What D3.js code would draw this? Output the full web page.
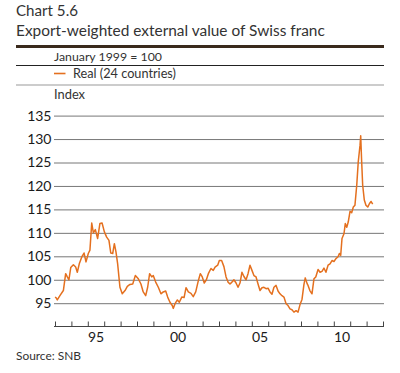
<!DOCTYPE html>
<html><head><meta charset="utf-8">
<script src="https://cdn.jsdelivr.net/npm/d3@7"></script>
<style>body{margin:0;background:#fff}svg{display:block}text{font-family:Lato,"Open Sans",sans-serif}</style>
</head><body>
<script>
// ---- data ----
const chartLabel = "Chart 5.6";
const chartTitle = "Export-weighted external value of Swiss franc";
const baseNote = "January 1999 = 100";
const seriesName = "Real (24 countries)";
const unitLabel = "Index";
const sourceNote = "Source: SNB";
const yTicks = [95, 100, 105, 110, 115, 120, 125, 130, 135];
const xTickYears = [1993,1994,1995,1996,1997,1998,1999,2000,2001,2002,2003,2004,2005,2006,2007,2008,2009,2010,2011,2012,2013];
const xLabelYears = [1995, 2000, 2005, 2010];
const xLabels = ["95", "00", "05", "10"];
const years = [
1993.00,1993.06,1993.14,1993.30,1993.51,1993.65,1993.75,1993.85,1993.96,1994.12,1994.26,1994.36,1994.48,1994.65,1994.77,1994.89,
1995.03,1995.13,1995.24,1995.34,1995.46,1995.60,1995.74,1995.87,1996.01,1996.15,1996.29,1996.40,1996.52,1996.62,1996.72,1996.82,
1996.96,1997.10,1997.27,1997.41,1997.57,1997.74,1997.90,1998.08,1998.24,1998.38,1998.53,1998.65,1998.77,1998.90,1998.99,
1999.14,1999.30,1999.46,1999.60,1999.75,1999.87,2000.01,2000.15,2000.21,2000.32,2000.46,2000.58,2000.73,2000.87,2000.99,
2001.13,2001.29,2001.43,2001.58,2001.74,2001.86,2001.98,2002.10,2002.23,2002.35,2002.51,2002.65,2002.76,2002.92,2003.02,2003.16,
2003.30,2003.43,2003.55,2003.67,2003.79,2003.91,2004.04,2004.16,2004.28,2004.40,2004.52,2004.65,2004.77,2004.89,2005.01,2005.13,
2005.26,2005.38,2005.50,2005.62,2005.74,2005.87,2005.99,2006.11,2006.23,2006.35,2006.48,2006.60,2006.72,2006.84,2006.96,2007.09,
2007.21,2007.33,2007.45,2007.57,2007.70,2007.82,2007.94,2008.06,2008.18,2008.26,2008.38,2008.43,2008.54,2008.67,2008.79,2008.90,
2009.04,2009.16,2009.28,2009.40,2009.52,2009.65,2009.77,2009.89,2010.01,2010.13,2010.26,2010.34,2010.42,2010.50,2010.62,2010.70,
2010.79,2010.88,2010.99,2011.09,2011.19,2011.29,2011.40,2011.49,2011.60,2011.64,2011.70,2011.76,2011.86,2011.96,2012.07,2012.17,
2012.27,2012.37];
const realIndex = [
96.3,96.2,95.7,96.6,97.7,101.3,100.6,100.0,102.6,103.2,102.7,101.6,103.4,105.0,105.7,103.8,
105.6,106.3,112.1,110.0,110.7,108.8,112.0,112.1,110.2,109.1,108.4,105.7,105.6,107.7,105.9,103.4,
98.4,97.0,97.7,98.6,99.0,99.1,100.9,100.2,99.1,97.4,96.6,98.4,101.3,100.6,100.9,
99.5,98.4,97.0,97.4,97.6,96.3,95.2,94.5,93.9,94.9,95.7,95.2,96.3,96.2,98.3,
97.4,97.1,96.4,97.4,99.8,101.3,100.6,99.3,100.0,101.3,102.4,102.0,102.7,103.1,104.1,104.1,
102.8,100.6,99.5,99.1,99.5,100.0,99.3,98.4,99.3,101.6,100.7,100.0,101.3,103.1,102.0,100.9,
100.6,99.1,97.7,98.3,98.4,98.1,98.2,97.4,96.9,98.4,98.8,97.6,97.0,96.6,96.3,94.9,
94.5,93.8,93.6,93.1,93.4,93.1,94.7,95.8,99.0,100.4,99.1,98.8,97.7,97.0,100.2,100.6,
102.2,101.6,101.8,102.5,101.6,103.1,103.4,104.1,103.9,104.5,104.9,105.6,105.2,108.8,109.8,112.0,
111.2,112.3,114.6,114.3,115.5,115.9,120.2,125.1,128.7,130.7,125.1,120.2,117.0,115.9,115.5,116.2,
116.7,116.1];

// ---- drawing ----
const W = 400, H = 373;
const svg = d3.select("body").append("svg").attr("width", W).attr("height", H);
const x = d3.scaleLinear().domain([1993, 2013]).range([55, 383]);
const y = d3.scaleLinear().domain([95, 135]).range([303.2, 115.6]);

function fit(sel, target) {
  const w = sel.node().getComputedTextLength();
  const fs = parseFloat(sel.attr("font-size"));
  sel.attr("font-size", (fs * target / w).toFixed(2));
  return sel;
}

const tc = "#333";
fit(svg.append("text").attr("x", 16).attr("y", 15.5).attr("font-size", 15).attr("fill", tc).text(chartLabel), 62);
fit(svg.append("text").attr("x", 16).attr("y", 35.5).attr("font-size", 16).attr("fill", tc).text(chartTitle), 309);
svg.append("line").attr("x1", 16).attr("x2", 384).attr("y1", 46.5).attr("y2", 46.5).attr("stroke", "#3a2a1c").attr("stroke-width", 3);
fit(svg.append("text").attr("x", 54).attr("y", 61).attr("font-size", 12).attr("fill", tc).text(baseNote), 108);
svg.append("line").attr("x1", 16).attr("x2", 384).attr("y1", 65.5).attr("y2", 65.5).attr("stroke", "#222").attr("stroke-width", 1.2);
svg.append("line").attr("x1", 54).attr("x2", 65.5).attr("y1", 73.5).attr("y2", 73.5).attr("stroke", "#e4701f").attr("stroke-width", 1.6);
fit(svg.append("text").attr("x", 73).attr("y", 78).attr("font-size", 12).attr("fill", tc).text(seriesName), 103);
svg.append("line").attr("x1", 16).attr("x2", 384).attr("y1", 85).attr("y2", 85).attr("stroke", "#999").attr("stroke-width", 1);
fit(svg.append("text").attr("x", 54).attr("y", 99).attr("font-size", 12).attr("fill", tc).text(unitLabel), 31);

// y grid + labels
const yAxis = d3.axisLeft(y).tickValues(yTicks).tickSize(-330).tickPadding(3).tickFormat(d3.format("d"));
const gy = svg.append("g").attr("transform", "translate(54,0)").call(yAxis);
gy.select(".domain").remove();
gy.selectAll(".tick line").attr("stroke", "#777").attr("stroke-width", 1).attr("x1", 0);
gy.selectAll(".tick text").attr("font-size", 14).attr("fill", "#1a1a1a").attr("font-family", "Lato, sans-serif").attr("x", -2.5);

// x axis with upward ticks
const xAxis = d3.axisBottom(x).tickValues(xTickYears).tickSizeInner(-5).tickSizeOuter(0).tickFormat("");
const gx = svg.append("g").attr("transform", "translate(0,326.5)").call(xAxis);
gx.select(".domain").attr("stroke", "#444").attr("d", `M54,0H384`);
gx.selectAll(".tick line").attr("stroke", "#444");
svg.append("g").selectAll("text").data(xLabelYears).join("text")
  .attr("x", d => x(d + 0.5)).attr("y", 342).attr("text-anchor", "middle")
  .attr("font-size", 14).attr("fill", "#1a1a1a").text((d, i) => xLabels[i]);

// series line
const pts = years.map((yr, i) => [yr, realIndex[i]]);
svg.append("path").datum(pts)
  .attr("fill", "none").attr("stroke", "#e4701f").attr("stroke-width", 1.5).attr("stroke-linejoin", "round")
  .attr("d", d3.line().x(d => x(d[0])).y(d => y(d[1])));

fit(svg.append("text").attr("x", 16).attr("y", 360).attr("font-size", 12).attr("fill", tc).text(sourceNote), 65);
</script>
</body></html>
